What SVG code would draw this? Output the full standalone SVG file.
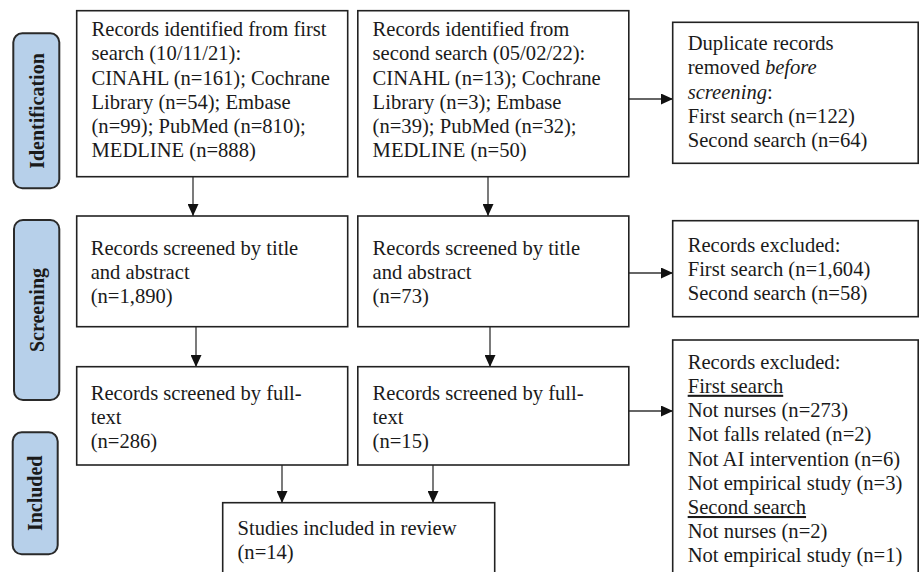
<svg xmlns="http://www.w3.org/2000/svg" width="920" height="572" viewBox="0 0 920 572">
<style>
.box{fill:#fff;stroke:#222;stroke-width:1.6}
.pill{fill:#b7d0ea;stroke:#2a2a2a;stroke-width:2}
.t{font-family:"Liberation Serif","Times New Roman",serif;font-size:20.6px;fill:#1a1a1a}
.lab{font-family:"Liberation Serif","Times New Roman",serif;font-size:20px;font-weight:bold;fill:#1a1a1a;text-anchor:middle;dominant-baseline:central}
.c{stroke:#333;stroke-width:1.3;fill:none;marker-end:url(#ah)}
.u{text-decoration:underline}
</style>
<defs>
<marker id="ah" markerUnits="userSpaceOnUse" markerWidth="12" markerHeight="11" refX="12" refY="5.5" orient="auto">
<path d="M0,0 L12,5.5 L0,11 Z" fill="#111"/>
</marker>
</defs>
<rect width="920" height="572" fill="#fff"/>

<g id="stage-identification">
<rect class="pill" x="13.3" y="33.3" width="46" height="155" rx="9"/>
<text class="lab" transform="translate(36.5 111) rotate(-90)">Identification</text>
</g>
<g id="stage-screening">
<rect class="pill" x="14" y="220" width="45.3" height="180" rx="9"/>
<text class="lab" transform="translate(36.8 310) rotate(-90)">Screening</text>
</g>
<g id="stage-included">
<rect class="pill" x="12.7" y="432.3" width="45" height="122" rx="9"/>
<text class="lab" transform="translate(35.3 493.3) rotate(-90)">Included</text>
</g>

<g id="connectors">
<line class="c" x1="193" y1="177" x2="193" y2="216"/>
<line class="c" x1="488" y1="177" x2="488" y2="216"/>
<line class="c" x1="629" y1="99" x2="673" y2="99"/>
<line class="c" x1="196" y1="327" x2="196" y2="367"/>
<line class="c" x1="490" y1="327" x2="490" y2="367"/>
<line class="c" x1="629" y1="273" x2="673" y2="273"/>
<line class="c" x1="629" y1="411" x2="673" y2="411"/>
<line class="c" x1="282" y1="465" x2="282" y2="503"/>
<line class="c" x1="433" y1="465" x2="433" y2="503"/>
</g>

<g id="first-search">
<rect class="box" x="76.7" y="10.7" width="271" height="166"/>
<text class="t" x="91.5"><tspan x="91.5" y="36">Records identified from first</tspan><tspan x="91.5" y="60.3">search (10/11/21):</tspan><tspan x="91.5" y="84.5">CINAHL (n=161); Cochrane</tspan><tspan x="91.5" y="108.7">Library (n=54); Embase</tspan><tspan x="91.5" y="133">(n=99); PubMed (n=810);</tspan><tspan x="91.5" y="157.2">MEDLINE (n=888)</tspan></text>
</g>

<g id="second-search">
<rect class="box" x="357.8" y="10.7" width="271" height="166"/>
<text class="t"><tspan x="372.6" y="36">Records identified from</tspan><tspan x="372.6" y="60.3">second search (05/02/22):</tspan><tspan x="372.6" y="84.5">CINAHL (n=13); Cochrane</tspan><tspan x="372.6" y="108.7">Library (n=3); Embase</tspan><tspan x="372.6" y="133">(n=39); PubMed (n=32);</tspan><tspan x="372.6" y="157.2">MEDLINE (n=50)</tspan></text>
</g>

<g id="duplicates">
<rect class="box" x="672.7" y="22.3" width="245.5" height="141"/>
<text class="t"><tspan x="687.7" y="50">Duplicate records</tspan><tspan x="687.7" y="74.2">removed <tspan font-style="italic">before</tspan></tspan><tspan x="687.7" y="98.5"><tspan font-style="italic">screening</tspan>:</tspan><tspan x="687.7" y="122.7">First search (n=122)</tspan><tspan x="687.7" y="147">Second search (n=64)</tspan></text>
</g>

<g id="screen-title-first">
<rect class="box" x="76.7" y="216" width="271" height="110.7"/>
<text class="t"><tspan x="90.7" y="255">Records screened by title</tspan><tspan x="90.7" y="279.2">and abstract</tspan><tspan x="90.7" y="303.4">(n=1,890)</tspan></text>
</g>

<g id="screen-title-second">
<rect class="box" x="357.8" y="216" width="271" height="110.7"/>
<text class="t"><tspan x="372.6" y="255">Records screened by title</tspan><tspan x="372.6" y="279.2">and abstract</tspan><tspan x="372.6" y="303.4">(n=73)</tspan></text>
</g>

<g id="excluded-title">
<rect class="box" x="672.7" y="220.7" width="245.5" height="96"/>
<text class="t"><tspan x="687.7" y="251.5">Records excluded:</tspan><tspan x="687.7" y="275.7">First search (n=1,604)</tspan><tspan x="687.7" y="300">Second search (n=58)</tspan></text>
</g>

<g id="fulltext-first">
<rect class="box" x="76.7" y="366.7" width="271" height="98.3"/>
<text class="t"><tspan x="90.7" y="400">Records screened by full-</tspan><tspan x="90.7" y="424.2">text</tspan><tspan x="90.7" y="448.4">(n=286)</tspan></text>
</g>

<g id="fulltext-second">
<rect class="box" x="357.8" y="366.7" width="271" height="98.3"/>
<text class="t"><tspan x="372.6" y="400">Records screened by full-</tspan><tspan x="372.6" y="424.2">text</tspan><tspan x="372.6" y="448.4">(n=15)</tspan></text>
</g>

<g id="excluded-fulltext">
<rect class="box" x="672.7" y="340" width="245.5" height="240"/>
<text class="t"><tspan x="687.7" y="368.5">Records excluded:</tspan><tspan x="687.7" y="392.8" class="u">First search</tspan><tspan x="687.7" y="417">Not nurses (n=273)</tspan><tspan x="687.7" y="441.2">Not falls related (n=2)</tspan><tspan x="687.7" y="465.5">Not AI intervention (n=6)</tspan><tspan x="687.7" y="489.7">Not empirical study (n=3)</tspan><tspan x="687.7" y="514" class="u">Second search</tspan><tspan x="687.7" y="538.2">Not nurses (n=2)</tspan><tspan x="687.7" y="562.4">Not empirical study (n=1)</tspan></text>
</g>

<g id="included-studies">
<rect class="box" x="222.7" y="502.7" width="272" height="80"/>
<text class="t"><tspan x="237.5" y="535">Studies included in review</tspan><tspan x="237.5" y="559.2">(n=14)</tspan></text>
</g>
</svg>
